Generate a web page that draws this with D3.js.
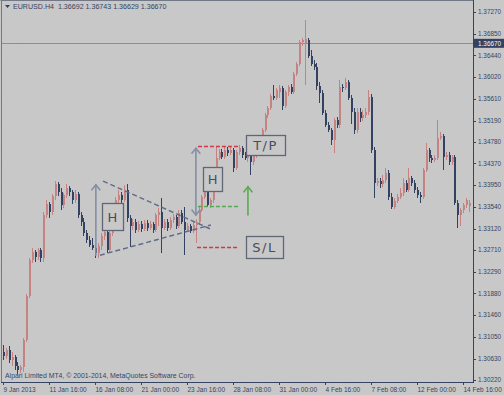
<!DOCTYPE html>
<html>
<head>
<meta charset="utf-8">
<script src="https://cdn.jsdelivr.net/npm/d3@7/dist/d3.min.js"></script>
<style>
  body { margin: 0; background: #c9c9c9; }
  svg { display: block; }
</style>
</head>
<body>
<script>
// EURUSD H4 bars, 9 Jan 2013 00:00 onwards
var open = [1.3076,1.3068,1.3079,1.3060,1.3066,1.3049,1.3041,1.3047,1.3099,1.3183,
  1.3252,1.3267,1.3258,1.3271,1.3256,1.3338,1.3359,1.3344,1.3375,1.3398,
  1.3382,1.3357,1.3376,1.3390,1.3382,1.3367,1.3378,1.3338,1.3325,1.3304,
  1.3290,1.3281,1.3275,1.3265,1.3279,1.3298,1.3306,1.3271,1.3304,1.3357,
  1.3367,1.3376,1.3367,1.3386,1.3332,1.3317,1.3325,1.3309,1.3321,1.3311,
  1.3323,1.3313,1.3321,1.3309,1.3338,1.3344,1.3313,1.3325,1.3313,1.3328,
  1.3334,1.3317,1.3342,1.3325,1.3309,1.3317,1.3307,1.3319,1.3325,1.3348,
  1.3373,1.3382,1.3357,1.3367,1.3415,1.3447,1.3459,1.3449,1.3463,1.3457,
  1.3463,1.3428,1.3459,1.3466,1.3453,1.3447,1.3451,1.3440,1.3453,1.3466,
  1.3482,1.3501,1.3530,1.3543,1.3566,1.3562,1.3574,1.3581,1.3547,1.3574,
  1.3583,1.3574,1.3608,1.3627,1.3670,1.3668,1.3673,1.3643,1.3627,1.3622,
  1.3585,1.3572,1.3534,1.3511,1.3501,1.3482,1.3520,1.3511,1.3583,1.3581,
  1.3593,1.3562,1.3535,1.3501,1.3535,1.3524,1.3530,1.3535,1.3564,1.3463,
  1.3399,1.3403,1.3398,1.3405,1.3419,1.3373,1.3353,1.3365,1.3373,1.3380,
  1.3399,1.3386,1.3409,1.3399,1.3386,1.3376,1.3373,1.3424,1.3463,1.3447,
  1.3443,1.3447,1.3486,1.3489,1.3449,1.3453,1.3440,1.3449,1.3361,1.3338,
  1.3348,1.3357,1.3355];
var high = [1.3089,1.3083,1.3087,1.3076,1.3070,1.3056,1.3051,1.3102,1.3187,1.3256,
  1.3275,1.3271,1.3275,1.3275,1.3344,1.3367,1.3363,1.3378,1.3403,1.3401,
  1.3390,1.3380,1.3398,1.3394,1.3386,1.3386,1.3382,1.3344,1.3332,1.3309,
  1.3298,1.3294,1.3281,1.3284,1.3304,1.3313,1.3313,1.3309,1.3361,1.3373,
  1.3386,1.3382,1.3396,1.3398,1.3338,1.3330,1.3330,1.3327,1.3327,1.3328,
  1.3328,1.3327,1.3325,1.3342,1.3352,1.3371,1.3330,1.3330,1.3334,1.3340,
  1.3338,1.3348,1.3348,1.3353,1.3323,1.3321,1.3325,1.3330,1.3353,1.3376,
  1.3390,1.3386,1.3371,1.3420,1.3468,1.3465,1.3465,1.3468,1.3468,1.3470,
  1.3466,1.3463,1.3472,1.3470,1.3459,1.3457,1.3455,1.3457,1.3470,1.3486,
  1.3505,1.3534,1.3547,1.3570,1.3587,1.3581,1.3587,1.3585,1.3578,1.3587,
  1.3589,1.3612,1.3631,1.3673,1.3677,1.3712,1.3677,1.3654,1.3635,1.3629,
  1.3593,1.3578,1.3539,1.3516,1.3505,1.3524,1.3526,1.3597,1.3589,1.3601,
  1.3597,1.3568,1.3543,1.3543,1.3543,1.3539,1.3543,1.3578,1.3570,1.3468,
  1.3409,1.3409,1.3415,1.3428,1.3424,1.3380,1.3371,1.3378,1.3390,1.3409,
  1.3405,1.3428,1.3413,1.3405,1.3392,1.3382,1.3428,1.3476,1.3466,1.3453,
  1.3453,1.3520,1.3497,1.3493,1.3459,1.3459,1.3453,1.3453,1.3367,1.3352,
  1.3361,1.3371,1.3367];
var low = [1.3060,1.3062,1.3055,1.3049,1.3041,1.3033,1.3035,1.3037,1.3095,1.3179,
  1.3246,1.3248,1.3252,1.3248,1.3248,1.3332,1.3332,1.3338,1.3367,1.3375,
  1.3348,1.3352,1.3371,1.3375,1.3359,1.3361,1.3332,1.3317,1.3298,1.3284,
  1.3277,1.3271,1.3256,1.3256,1.3271,1.3290,1.3265,1.3267,1.3298,1.3352,
  1.3361,1.3361,1.3363,1.3325,1.3277,1.3309,1.3304,1.3306,1.3306,1.3307,
  1.3307,1.3309,1.3304,1.3306,1.3317,1.3265,1.3309,1.3307,1.3309,1.3323,
  1.3311,1.3313,1.3321,1.3261,1.3306,1.3304,1.3304,1.3284,1.3319,1.3344,
  1.3369,1.3353,1.3352,1.3361,1.3409,1.3443,1.3445,1.3445,1.3451,1.3453,
  1.3420,1.3424,1.3453,1.3447,1.3443,1.3440,1.3415,1.3434,1.3447,1.3463,
  1.3478,1.3497,1.3524,1.3539,1.3558,1.3558,1.3562,1.3539,1.3543,1.3566,
  1.3570,1.3570,1.3604,1.3624,1.3662,1.3587,1.3639,1.3624,1.3616,1.3578,
  1.3553,1.3530,1.3507,1.3497,1.3472,1.3457,1.3505,1.3505,1.3574,1.3578,
  1.3558,1.3512,1.3493,1.3495,1.3516,1.3518,1.3524,1.3530,1.3457,1.3371,
  1.3394,1.3390,1.3392,1.3399,1.3367,1.3350,1.3350,1.3361,1.3369,1.3375,
  1.3382,1.3382,1.3394,1.3380,1.3371,1.3361,1.3369,1.3420,1.3440,1.3438,
  1.3440,1.3443,1.3482,1.3424,1.3443,1.3434,1.3434,1.3357,1.3313,1.3317,
  1.3342,1.3352,1.3344];
var close = [1.3068,1.3079,1.3060,1.3066,1.3049,1.3041,1.3047,1.3099,1.3183,1.3252,
  1.3267,1.3258,1.3271,1.3256,1.3338,1.3359,1.3344,1.3375,1.3398,1.3382,
  1.3357,1.3376,1.3390,1.3382,1.3367,1.3378,1.3338,1.3325,1.3304,1.3290,
  1.3281,1.3275,1.3265,1.3279,1.3298,1.3306,1.3271,1.3304,1.3357,1.3367,
  1.3376,1.3367,1.3386,1.3332,1.3317,1.3325,1.3309,1.3321,1.3311,1.3323,
  1.3313,1.3321,1.3309,1.3338,1.3344,1.3313,1.3325,1.3313,1.3328,1.3334,
  1.3317,1.3342,1.3325,1.3309,1.3317,1.3307,1.3319,1.3325,1.3348,1.3373,
  1.3382,1.3357,1.3367,1.3415,1.3447,1.3459,1.3449,1.3463,1.3457,1.3463,
  1.3428,1.3459,1.3466,1.3453,1.3447,1.3451,1.3440,1.3453,1.3466,1.3482,
  1.3501,1.3530,1.3543,1.3566,1.3562,1.3578,1.3581,1.3547,1.3574,1.3583,
  1.3574,1.3608,1.3627,1.3670,1.3673,1.3675,1.3643,1.3627,1.3622,1.3585,
  1.3572,1.3534,1.3511,1.3501,1.3482,1.3520,1.3511,1.3583,1.3581,1.3593,
  1.3562,1.3535,1.3501,1.3535,1.3524,1.3530,1.3535,1.3564,1.3463,1.3399,
  1.3403,1.3398,1.3405,1.3419,1.3373,1.3353,1.3365,1.3373,1.3380,1.3399,
  1.3386,1.3409,1.3399,1.3386,1.3376,1.3373,1.3424,1.3463,1.3447,1.3443,
  1.3447,1.3486,1.3489,1.3449,1.3453,1.3440,1.3449,1.3361,1.3338,1.3348,
  1.3357,1.3367,1.3361];

var dateTickBars = [0,16,32,48,64,80,96,112,128,144,160];
var dateLabels = ['9 Jan 2013','11 Jan 16:00','16 Jan 08:00','21 Jan 00:00','23 Jan 16:00',
  '28 Jan 08:00','31 Jan 00:00','4 Feb 16:00','7 Feb 08:00','12 Feb 00:00','14 Feb 16:00'];
var priceTicks = [1.37270,1.36850,1.36440,1.36020,1.35610,1.35190,1.34780,1.34370,1.33950,
  1.33540,1.33120,1.32710,1.32290,1.31880,1.31460,1.31050,1.30630,1.30220];
var bidPrice = 1.36670;
var headerText = 'EURUSD.H4  1.36692 1.36743 1.36629 1.36670';
var footerText = 'Alpari Limited MT4, \u00a9 2001-2014, MetaQuotes Software Corp.';

// pennant annotation, in bar index / price
var pennantLines = [
  {x1: 34.8, p1: 1.3403, x2: 72.3, p2: 1.3311},
  {x1: 33.7, p1: 1.3261, x2: 72.3, p2: 1.3319}
];
var levelLines = [
  {x1: 67.8, x2: 82.4, p: 1.3470, color: '#d2313a'},
  {x1: 67.8, x2: 82.4, p: 1.3355, color: '#4fa84a'},
  {x1: 67.5, x2: 82.1, p: 1.3277, color: '#d2313a'}
];
var arrows = [
  {x: 32.3, from: 1.3261, to: 1.3396, both: false, color: '#7f8ca3'},
  {x: 67.1, from: 1.3338, to: 1.3466, both: true, color: '#7f8ca3'},
  {x: 85.2, from: 1.3338, to: 1.3392, both: false, color: '#53aa4c'}
];
var labelBoxes = [
  {x1: 34.4, x2: 41.7, p1: 1.3361, p2: 1.3309, text: 'H'},
  {x1: 69.6, x2: 76.2, p1: 1.3430, p2: 1.3384, text: 'H'},
  {x1: 84.5, x2: 98.1, p1: 1.3491, p2: 1.3453, text: 'T/P'},
  {x1: 84.5, x2: 97.4, p1: 1.3298, p2: 1.3256, text: 'S/L'}
];

var W = 504, H = 395;
var plotRight = 473, plotBottom = 382;
var bg = '#c9c9c9', axisColor = '#2d3b5b';
var upColor = '#c67f7e', downColor = '#2b3a5c';

var x = d3.scaleLinear().domain([0, 160]).range([3, 463]);
var y = d3.scaleLinear().domain([1.30220, 1.37270]).range([380, 12]);

var svg = d3.select('body').append('svg')
  .attr('width', W).attr('height', H)
  .style('font-family', 'Liberation Sans, Arial, sans-serif');

// faint grain like the screenshot
var defs = svg.append('defs');
var grain = defs.append('filter').attr('id', 'grain').attr('x', 0).attr('y', 0)
  .attr('width', '100%').attr('height', '100%');
grain.append('feTurbulence').attr('type', 'fractalNoise')
  .attr('baseFrequency', 0.9).attr('numOctaves', 1).attr('seed', 3);
grain.append('feColorMatrix').attr('type', 'matrix')
  .attr('values', '0 0 0 0 0.5  0 0 0 0 0.5  0 0 0 0 0.5  0 0 0 0.12 0');

svg.append('rect').attr('width', W).attr('height', H).attr('fill', bg);

// frame
svg.append('line').attr('x1', 0.5).attr('x2', plotRight).attr('y1', 0.5).attr('y2', 0.5)
  .attr('stroke', '#6d7484');
svg.append('line').attr('x1', 1.5).attr('x2', 1.5).attr('y1', 0).attr('y2', plotBottom)
  .attr('stroke', '#6d7484');

// bid line
svg.append('line')
  .attr('x1', 2).attr('x2', plotRight)
  .attr('y1', Math.round(y(bidPrice)) + 0.5).attr('y2', Math.round(y(bidPrice)) + 0.5)
  .attr('stroke', '#8b8b8b');

// candles
var bars = d3.range(close.length);
var candles = svg.append('g').attr('shape-rendering', 'crispEdges');
candles.selectAll('line.wick')
  .data(bars)
  .enter().append('line')
  .attr('class', 'wick')
  .attr('x1', function(i) { return Math.round(x(i)) + 0.5; })
  .attr('x2', function(i) { return Math.round(x(i)) + 0.5; })
  .attr('y1', function(i) { return y(high[i]); })
  .attr('y2', function(i) { return y(low[i]); })
  .attr('stroke', function(i) { return close[i] >= open[i] ? upColor : downColor; })
  .attr('stroke-width', 1);
candles.selectAll('rect.body')
  .data(bars)
  .enter().append('rect')
  .attr('class', 'body')
  .attr('x', function(i) { return Math.round(x(i)); })
  .attr('width', 2)
  .attr('y', function(i) { return y(Math.max(open[i], close[i])); })
  .attr('height', function(i) { return Math.max(1, Math.abs(y(open[i]) - y(close[i]))); })
  .attr('fill', function(i) { return close[i] >= open[i] ? upColor : downColor; });

// pennant
svg.selectAll('line.pennant')
  .data(pennantLines)
  .enter().append('line')
  .attr('class', 'pennant')
  .attr('x1', function(d) { return x(d.x1); })
  .attr('y1', function(d) { return y(d.p1); })
  .attr('x2', function(d) { return x(d.x2); })
  .attr('y2', function(d) { return y(d.p2); })
  .attr('stroke', '#5a6883')
  .attr('stroke-width', 1.5)
  .attr('stroke-dasharray', '5,3');

// levels
svg.selectAll('line.level')
  .data(levelLines)
  .enter().append('line')
  .attr('class', 'level')
  .attr('x1', function(d) { return x(d.x1); })
  .attr('x2', function(d) { return x(d.x2); })
  .attr('y1', function(d) { return Math.round(y(d.p)) + 0.5; })
  .attr('y2', function(d) { return Math.round(y(d.p)) + 0.5; })
  .attr('stroke', function(d) { return d.color; })
  .attr('stroke-width', 1.5)
  .attr('stroke-dasharray', '4,2');

// arrows
arrows.forEach(function(a) {
  var ax = x(a.x), y1 = y(a.from), y2 = y(a.to);
  var g = svg.append('g').attr('stroke', a.color).attr('stroke-width', 1.6)
    .attr('fill', 'none').attr('stroke-linecap', 'round');
  g.append('line').attr('x1', ax).attr('x2', ax).attr('y1', y1).attr('y2', y2);
  g.append('path').attr('d', 'M' + (ax - 4) + ',' + (y2 + 5) + 'L' + ax + ',' + y2 + 'L' + (ax + 4) + ',' + (y2 + 5));
  if (a.both) {
    g.append('path').attr('d', 'M' + (ax - 4) + ',' + (y1 - 5) + 'L' + ax + ',' + y1 + 'L' + (ax + 4) + ',' + (y1 - 5));
  }
});

// label boxes
var boxes = svg.selectAll('g.box')
  .data(labelBoxes)
  .enter().append('g')
  .attr('class', 'box');
boxes.append('rect')
  .attr('x', function(d) { return Math.round(x(d.x1)) + 0.5; })
  .attr('y', function(d) { return Math.round(y(d.p1)) + 0.5; })
  .attr('width', function(d) { return Math.round(x(d.x2) - x(d.x1)); })
  .attr('height', function(d) { return Math.round(y(d.p2) - y(d.p1)); })
  .attr('fill', bg)
  .attr('stroke', '#5b6170')
  .attr('stroke-width', 1.3);
boxes.append('text')
  .attr('x', function(d) { return (x(d.x1) + x(d.x2)) / 2; })
  .attr('y', function(d) { return (y(d.p1) + y(d.p2)) / 2 + 5; })
  .attr('text-anchor', 'middle')
  .attr('font-family', 'DejaVu Sans, sans-serif')
  .attr('font-size', 13)
  .attr('letter-spacing', function(d) { return d.text.length > 1 ? 1.5 : 0; })
  .attr('fill', '#3d4659')
  .text(function(d) { return d.text; });

// price axis
svg.append('line').attr('x1', plotRight + 0.5).attr('x2', plotRight + 0.5)
  .attr('y1', 0).attr('y2', plotBottom + 1).attr('stroke', axisColor);
var yAxis = svg.append('g');
yAxis.selectAll('line')
  .data(priceTicks)
  .enter().append('line')
  .attr('x1', plotRight).attr('x2', plotRight + 3)
  .attr('y1', function(d) { return Math.round(y(d)) + 0.5; })
  .attr('y2', function(d) { return Math.round(y(d)) + 0.5; })
  .attr('stroke', axisColor);
yAxis.selectAll('text')
  .data(priceTicks)
  .enter().append('text')
  .attr('x', plotRight + 5)
  .attr('y', function(d) { return y(d) + 2.2; })
  .attr('font-size', 6.4)
  .attr('fill', axisColor)
  .text(function(d) { return d.toFixed(5); });

// bid label
svg.append('rect')
  .attr('x', plotRight + 1).attr('y', y(bidPrice) - 4.5)
  .attr('width', W - plotRight - 1).attr('height', 9)
  .attr('fill', '#2b3a5c');
svg.append('text')
  .attr('x', plotRight + 5).attr('y', y(bidPrice) + 2.2)
  .attr('font-size', 6.4).attr('fill', '#ffffff')
  .text(bidPrice.toFixed(5));

// time axis
svg.append('line').attr('x1', 1).attr('x2', plotRight + 1)
  .attr('y1', plotBottom + 0.5).attr('y2', plotBottom + 0.5).attr('stroke', axisColor);
var xAxis = svg.append('g');
xAxis.selectAll('line')
  .data(dateTickBars)
  .enter().append('line')
  .attr('x1', function(d) { return Math.round(x(d)) + 0.5; })
  .attr('x2', function(d) { return Math.round(x(d)) + 0.5; })
  .attr('y1', plotBottom).attr('y2', plotBottom + 3)
  .attr('stroke', axisColor);
xAxis.selectAll('text')
  .data(dateTickBars)
  .enter().append('text')
  .attr('x', function(d) { return x(d) + 0.5; })
  .attr('y', plotBottom + 10)
  .attr('font-size', 6.5)
  .attr('fill', axisColor)
  .text(function(d, i) { return dateLabels[i]; });

// header and footer
svg.append('path').attr('d', 'M5,5L10,5L7.5,8Z').attr('fill', axisColor);
svg.append('text').attr('x', 13).attr('y', 9)
  .attr('font-size', 7.1).attr('fill', axisColor)
  .attr('xml:space', 'preserve')
  .text(headerText);
svg.append('text').attr('x', 5).attr('y', 378)
  .attr('font-size', 6.9).attr('fill', axisColor)
  .text(footerText);

svg.append('rect').attr('width', W).attr('height', H)
  .attr('filter', 'url(#grain)').attr('pointer-events', 'none');
</script>
</body>
</html>
